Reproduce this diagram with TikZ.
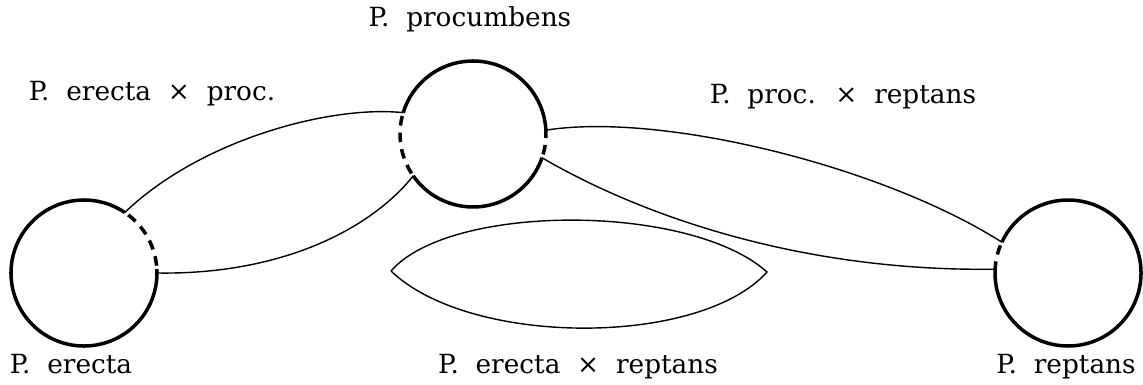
\documentclass[tikz,border=0pt]{standalone}
\usepackage{fontspec}
\setmainfont{DejaVu Serif}[WordSpace=2]
\usetikzlibrary{positioning}

\begin{document}
\begin{tikzpicture}[
    x=0.02cm, y=0.02cm,
    species/.style={circle, inner sep=0pt, outer sep=0pt, minimum size=2.92cm},
    rim/.style={line width=2pt},
    gap/.style={line width=2pt, dash pattern=on 5.5pt off 4pt, dash phase=-2pt},
    cross/.style={line width=0.8pt},
    spname/.style={font=\fontsize{15}{17}\selectfont, anchor=base, inner sep=0pt}
]
\useasboundingbox (0,0) rectangle (1143,385);

% Species circles
\node[species] (erecta) at (84, 112) {};
\node[species] (proc) at (473, 251) {};
\node[species] (reptans) at (1068, 112) {};

% Rims, dashed where the hybrids join
\draw[rim] (erecta.56) arc[start angle=56, end angle=363, radius=73];
\draw[gap] (erecta.3) arc[start angle=3, end angle=56, radius=73];

\draw[rim] (proc.3) arc[start angle=3, end angle=163, radius=73];
\draw[gap] (proc.163) arc[start angle=163, end angle=215, radius=73];
\draw[rim] (proc.215) arc[start angle=215, end angle=341, radius=73];
\draw[gap] (proc.341) arc[start angle=341, end angle=363, radius=73];

\draw[rim] (reptans.177) arc[start angle=177, end angle=515, radius=73];
\draw[gap] (reptans.155) arc[start angle=155, end angle=177, radius=73];

% Hybrids between the species
\draw[cross] (erecta.56) .. controls (200,245) and (330,280) .. (proc.163);
\draw[cross] (erecta.0) .. controls (280,110) and (370,155) .. (proc.215);

\draw[cross] (proc.3) .. controls (660,273) and (880,220) .. (reptans.155);
\draw[cross] (proc.341) .. controls (640,170) and (800,113) .. (reptans.177);

\coordinate (lenswest) at (391,114);
\coordinate (lenseast) at (767,113);
\draw[cross] (lenswest) .. controls (450,182) and (690,182) .. (lenseast)
    .. controls (700,38) and (470,38) .. (lenswest);

% Names
\node[spname] (procname) at (470,358) {P. procumbens};
\node[spname] (epname) at (152,284) {P. erecta × proc.};
\node[spname] (prname) at (843,281) {P. proc. × reptans};
\node[spname] (erectaname) at (71,11) {P. erecta};
\node[spname] (ername) at (578,11) {P. erecta × reptans};
\node[spname] (reptansname) at (1066,11) {P. reptans};
\end{tikzpicture}
\end{document}
